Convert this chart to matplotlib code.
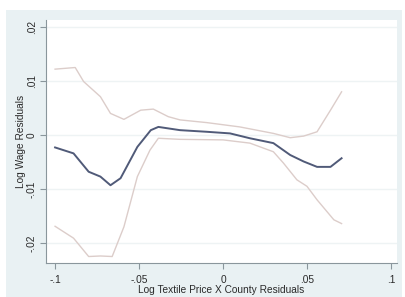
import matplotlib
matplotlib.use("Agg")
import matplotlib.pyplot as plt
from matplotlib.patches import Rectangle

# Data
fit_x = [-0.100, -0.089, -0.080, -0.073, -0.067, -0.061, -0.051, -0.043, -0.0385, -0.0256,
         -0.0097, 0.0042, 0.016, 0.030, 0.040, 0.048, 0.056, 0.064, 0.0706]
fit_y = [-0.0023, -0.0034, -0.0068, -0.0077, -0.0093, -0.0080, -0.0022, 0.0009, 0.0015, 0.0009,
         0.0006, 0.0003, -0.0006, -0.0015, -0.0037, -0.0049, -0.0059, -0.0059, -0.0043]

upper_x = [-0.100, -0.088, -0.083, -0.073, -0.067, -0.059, -0.049, -0.0415, -0.0326, -0.0256,
           -0.0097, 0.010, 0.030, 0.040, 0.048, 0.056, 0.064, 0.0706]
upper_y = [0.0122, 0.0125, 0.0099, 0.0071, 0.0040, 0.0029, 0.0046, 0.0048, 0.0034, 0.0028,
           0.0023, 0.0015, 0.0003, -0.0005, -0.0002, 0.0006, 0.0046, 0.0080]

lower_x = [-0.100, -0.089, -0.080, -0.073, -0.066, -0.059, -0.051, -0.0435, -0.0385, -0.0256,
           0.0, 0.016, 0.030, 0.036, 0.044, 0.050, 0.056, 0.066, 0.0706]
lower_y = [-0.0169, -0.0191, -0.0225, -0.0224, -0.0225, -0.0170, -0.0077, -0.0028, -0.0006, -0.0008,
           -0.0009, -0.0015, -0.0031, -0.0052, -0.0083, -0.0095, -0.0120, -0.0157, -0.0164]

xticks = [-0.1, -0.05, 0, 0.05, 0.1]
xtick_labels = ["-.1", "-.05", "0", ".05", ".1"]
yticks = [-0.02, -0.01, 0, 0.01, 0.02]
ytick_labels = ["-.02", "-.01", "0", ".01", ".02"]

plt.rcParams['font.family'] = ['Liberation Sans', 'DejaVu Sans']

W, H = 405, 297
fig = plt.figure(figsize=(W / 100, H / 100), dpi=100)
fig.patch.set_facecolor('white')
bg = '#e9f1f3'
fig.patches.append(Rectangle((6 / W, 0), (402 - 6) / W, (287) / H, transform=fig.transFigure,
                             facecolor=bg, edgecolor='none', zorder=-10))

ax = fig.add_axes([46 / W, (297 - 263) / H, (397 - 46) / W, (263 - 20) / H])
ax.set_zorder(5)
ax.set_facecolor('white')
ax.set_xlim(-0.1054, 0.1036)
ax.set_ylim(-0.0237, 0.0213)

for yv in yticks:
    ax.axhline(yv, color='#eef3f4', lw=1.0, zorder=1)

ci_color = '#dccdca'
ax.plot(upper_x, upper_y, color=ci_color, lw=1.0, zorder=2, solid_joinstyle='round')
ax.plot(lower_x, lower_y, color=ci_color, lw=1.0, zorder=2, solid_joinstyle='round')
ax.plot(fit_x, fit_y, color='#505a78', lw=1.4, zorder=3, solid_joinstyle='round')

for s in ['top', 'right']:
    ax.spines[s].set_visible(False)
for s in ['left', 'bottom']:
    ax.spines[s].set_color('#8a969c')
    ax.spines[s].set_linewidth(0.8)

fs = 7.3
ax.set_xticks(xticks)
ax.set_xticklabels(xtick_labels)
ax.set_yticks(yticks)
ax.set_yticklabels(ytick_labels, rotation=90, va='center')
ax.tick_params(axis='both', colors='#8a969c', labelcolor='#2a2a2a', labelsize=fs,
               length=4, width=0.8)
ax.tick_params(axis='x', pad=4.5)
ax.tick_params(axis='y', pad=2.5)

ax.set_xlabel("Log Textile Price X County Residuals", fontsize=fs, color='#2a2a2a', labelpad=0)
ax.set_ylabel("Log Wage Residuals", fontsize=fs, color='#2a2a2a', labelpad=1)

fig.savefig("out.png", dpi=100, facecolor=fig.get_facecolor())
